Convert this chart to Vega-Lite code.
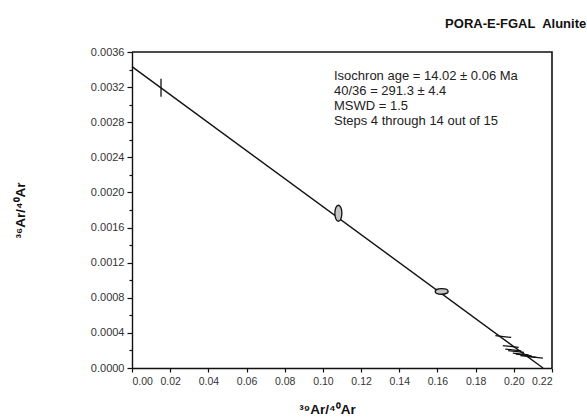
{
  "$schema": "https://vega.github.io/schema/vega-lite/v6.json",
  "width": 420,
  "height": 316,
  "autosize": "none",
  "padding": {"left": 132, "top": 52, "right": 35, "bottom": 52},
  "background": "white",
  "config": {
    "font": "Liberation Sans",
    "view": {"stroke": null},
    "axis": {"domainColor": "#111", "domainWidth": 1.4, "tickColor": "#111", "tickWidth": 1.2, "grid": false, "labelOverlap": false, "labelFont": "Liberation Sans", "labelColor": "#333", "titleFont": "Liberation Sans", "titleColor": "#111", "titleFontWeight": "bold", "titleFontSize": 13.5}
  },
  "title": {"text": "PORA-E-FGAL\u00a0 Alunite", "anchor": "end", "dx": 31, "offset": 15, "fontSize": 13, "fontWeight": "bold", "font": "Liberation Sans", "color": "#111"},
  "layer": [
    {
      "data": {"values": [{"x": 0, "y": 0.003433}, {"x": 0.2153, "y": 0}]},
      "mark": {"type": "line", "color": "#111", "strokeWidth": 1.4},
      "encoding": {
        "x": {"field": "x", "type": "quantitative", "scale": {"domain": [0, 0.22], "nice": false},
          "axis": {"values": [0, 0.02, 0.04, 0.06, 0.08, 0.1, 0.12, 0.14, 0.16, 0.18, 0.2, 0.22], "tickCount": 100, "format": ".2f", "labelFontSize": 10.5, "tickSize": 4, "labelPadding": 4, "labelOverlap": false,
            "title": "³⁹Ar/⁴⁰Ar", "titleX": 195, "titleY": 41, "titleBaseline": "middle", "titleAlign": "center"}},
        "y": {"field": "y", "type": "quantitative", "scale": {"domain": [0, 0.0036], "nice": false},
          "axis": {"values": [0, 0.0002, 0.0004, 0.0006, 0.0008, 0.001, 0.0012, 0.0014, 0.0016, 0.0018, 0.002, 0.0022, 0.0024, 0.0026, 0.0028, 0.003, 0.0032, 0.0034, 0.0036],
            "tickCount": 100,
            "labelExpr": "round(datum.value*10000) % 4 == 0 ? format(datum.value, '.4f') : ''",
            "tickSize": {"condition": {"test": "round(datum.value*10000) % 4 == 0", "value": 5}, "value": 3},
            "labelFontSize": 11, "labelPadding": 3, "labelOverlap": false,
            "title": "³⁶Ar/⁴⁰Ar", "titleX": -112, "titleY": 158, "titleBaseline": "middle", "titleAlign": "center", "titleAngle": -90}}
      }
    },
    {
      "data": {"values": [{"o": 1, "fx": 0, "fy": 0.0036}, {"o": 2, "fx": 0.22, "fy": 0.0036}, {"o": 3, "fx": 0.22, "fy": 0}]},
      "mark": {"type": "line", "color": "#111", "strokeWidth": 1.6, "clip": false},
      "encoding": {
        "x": {"field": "fx", "type": "quantitative"},
        "y": {"field": "fy", "type": "quantitative"},
        "order": {"field": "o", "type": "quantitative"}
      }
    },
    {
      "data": {"values": [
        {"step": "4", "x": 0.0152, "y": 0.003193},
        {"step": "5", "x": 0.1081, "y": 0.001763},
        {"step": "6", "x": 0.1622, "y": 0.000872},
        {"step": "7", "x": 0.1945, "y": 0.000358},
        {"step": "8", "x": 0.1984, "y": 0.000245},
        {"step": "9", "x": 0.1997, "y": 0.000205},
        {"step": "10", "x": 0.2012, "y": 0.000188},
        {"step": "11", "x": 0.2036, "y": 0.000160},
        {"step": "12", "x": 0.2052, "y": 0.000148},
        {"step": "13", "x": 0.2076, "y": 0.000132},
        {"step": "14", "x": 0.2111, "y": 0.000123}
      ]},
      "mark": {"type": "point", "filled": false, "fill": "#c4c4c4", "fillOpacity": 1, "stroke": "#111", "strokeWidth": 1.3, "opacity": 1, "size": 324},
      "encoding": {
        "x": {"field": "x", "type": "quantitative"},
        "y": {"field": "y", "type": "quantitative"},
        "shape": {"field": "step", "type": "nominal", "legend": null,
          "scale": {"domain": ["4", "5", "6", "7", "8", "9", "10", "11", "12", "13", "14"],
            "range": [
              "M0,-1L0,1",
              "M0,-0.89A0.39,0.89,0,1,0,0,0.89A0.39,0.89,0,1,0,0,-0.89Z",
              "M-0.72,0A0.72,0.31,0,1,0,0.72,0A0.72,0.31,0,1,0,-0.72,0Z",
              "M-0.88,-0.1L0.88,0.1",
              "M-0.88,-0.1L0.88,0.1",
              "M-0.88,-0.1L0.88,0.1",
              "M-0.88,-0.1L0.88,0.1",
              "M-0.88,-0.1L0.88,0.1",
              "M-0.88,-0.1L0.88,0.1",
              "M-0.88,-0.1L0.88,0.1",
              "M-0.88,-0.1L0.88,0.1"
            ]}}
      }
    },
    {
      "data": {"values": [{"note": "Isochron age = 14.02 ± 0.06 Ma\n40/36 = 291.3 ± 4.4\nMSWD = 1.5\nSteps 4 through 14 out of 15"}]},
      "mark": {"type": "text", "align": "left", "baseline": "top", "lineBreak": "\n", "lineHeight": 15.3, "fontSize": 13, "font": "Liberation Sans", "color": "#222"},
      "encoding": {
        "x": {"datum": 0.1058, "type": "quantitative"},
        "y": {"datum": 0.0034, "type": "quantitative"},
        "text": {"field": "note"}
      }
    }
  ]
}
